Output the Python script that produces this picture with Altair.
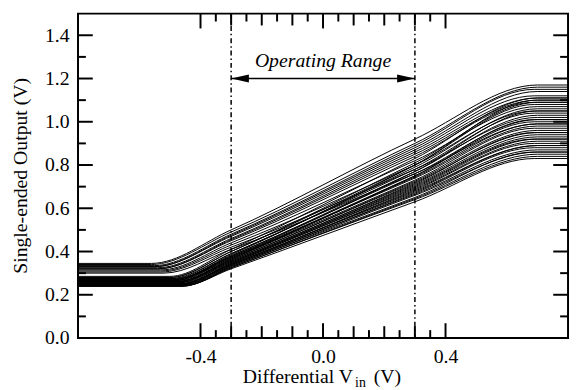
import altair as alt
import pandas as pd

W, H = 497, 329
FONT = "Liberation Serif"

# Per-curve values:
# left plateau, start of rise, value at -0.3 V, value at +0.3 V, end of rise, right plateau
plateau_low = [0.345, 0.34, 0.335, 0.33, 0.33, 0.325, 0.32, 0.32, 0.315, 0.31, 0.305, 0.30,
               0.285, 0.28, 0.28, 0.275, 0.275, 0.27, 0.27, 0.27, 0.265, 0.265, 0.26, 0.26,
               0.26, 0.26, 0.255, 0.255, 0.255, 0.25, 0.25, 0.25, 0.25, 0.245, 0.245, 0.245,
               0.245, 0.24, 0.24, 0.24, 0.24, 0.265, 0.27, 0.26]
knee_low = [-0.56, -0.56, -0.55, -0.55, -0.55, -0.54, -0.54, -0.54, -0.53, -0.53, -0.53, -0.52,
            -0.50, -0.50, -0.50, -0.50, -0.49, -0.49, -0.49, -0.49, -0.49, -0.48, -0.48, -0.48,
            -0.48, -0.48, -0.48, -0.48, -0.47, -0.47, -0.47, -0.47, -0.47, -0.47, -0.47, -0.46,
            -0.46, -0.46, -0.46, -0.46, -0.46, -0.49, -0.49, -0.48]
value_m03 = [0.50, 0.49, 0.48, 0.475, 0.47, 0.46, 0.455, 0.45, 0.44, 0.43, 0.42, 0.41,
             0.41, 0.40, 0.40, 0.39, 0.39, 0.38, 0.38, 0.375, 0.37, 0.37, 0.365, 0.36,
             0.36, 0.355, 0.355, 0.35, 0.35, 0.345, 0.345, 0.34, 0.34, 0.34, 0.335, 0.335,
             0.33, 0.33, 0.325, 0.325, 0.32, 0.375, 0.385, 0.365]
value_p03 = [0.92, 0.90, 0.89, 0.88, 0.87, 0.86, 0.85, 0.84, 0.82, 0.80, 0.78, 0.76,
             0.83, 0.81, 0.80, 0.79, 0.78, 0.77, 0.76, 0.75, 0.745, 0.74, 0.73, 0.725,
             0.72, 0.715, 0.71, 0.705, 0.70, 0.695, 0.69, 0.685, 0.68, 0.675, 0.67, 0.665,
             0.66, 0.65, 0.645, 0.64, 0.63, 0.77, 0.80, 0.75]
knee_high = [0.70, 0.70, 0.69, 0.70, 0.69, 0.70, 0.70, 0.69, 0.70, 0.69, 0.70, 0.70,
             0.70, 0.70, 0.69, 0.70, 0.69, 0.70, 0.70, 0.69, 0.70, 0.70, 0.69, 0.70,
             0.70, 0.69, 0.70, 0.70, 0.69, 0.70, 0.70, 0.69, 0.70, 0.70, 0.69, 0.70,
             0.70, 0.69, 0.70, 0.70, 0.69, 0.70, 0.70, 0.69]
plateau_high = [1.17, 1.16, 1.15, 1.14, 1.12, 1.11, 1.10, 1.09, 1.07, 1.05, 1.02, 0.99,
                1.11, 1.09, 1.08, 1.06, 1.04, 1.03, 1.01, 1.00, 0.99, 0.98, 0.97, 0.96,
                0.95, 0.95, 0.94, 0.93, 0.92, 0.92, 0.91, 0.90, 0.89, 0.89, 0.88, 0.87,
                0.86, 0.86, 0.85, 0.84, 0.83, 1.05, 1.10, 1.01]
x_start, x_end = -0.8, 0.8

range_limits = [-0.3, 0.3]
range_label = "Operating Range"
arrow_level = 1.20
label_level = 1.255

x_label_values = [-0.4, 0.0, 0.4]
y_label_values = [0.0, 0.2, 0.4, 0.6, 0.8, 1.0, 1.2, 1.4]
x_major = [-0.4, 0.0, 0.4]
x_medium = [-0.3, -0.2, -0.1, 0.1, 0.2, 0.3]
x_minor = [-0.35, -0.25, -0.15, -0.05, 0.05, 0.15, 0.25, 0.35]
y_major = [0.2, 0.4, 0.6, 0.8, 1.0, 1.2, 1.4]
y_minor = [0.1, 0.3, 0.5, 0.7, 0.9, 1.1, 1.3]

rows = []
for i in range(len(plateau_low)):
    pts = [(x_start, plateau_low[i]), (knee_low[i], plateau_low[i]), (-0.3, value_m03[i]),
           (0.3, value_p03[i]), (knee_high[i], plateau_high[i]), (x_end, plateau_high[i])]
    for x, y in pts:
        rows.append({"run": i, "vin": x, "vout": y})
curves = pd.DataFrame(rows)

xs = alt.Scale(domain=[-0.8, 0.8], nice=False, zero=False)
ys = alt.Scale(domain=[0, 1.5], nice=False, zero=False)

lab_expr = "datum.value < 0 ? '-' + format(-datum.value, '.1f') : format(datum.value, '.1f')"

lines = alt.Chart(curves).mark_line(
    interpolate="monotone", color="black", strokeWidth=1, clip=True
).encode(
    x=alt.X("vin:Q", scale=xs,
            axis=alt.Axis(values=x_label_values, ticks=False, domain=False, grid=False,
                          labelExpr=lab_expr, labelFont=FONT, labelFontSize=20,
                          labelColor="black", labelPadding=9, title=None)),
    y=alt.Y("vout:Q", scale=ys,
            axis=alt.Axis(values=y_label_values, ticks=False, domain=False, grid=False,
                          labelExpr=lab_expr, labelFont=FONT, labelFontSize=20,
                          labelColor="black", labelPadding=9, title=None)),
    detail="run:N",
)

def xticks(vals, length):
    d = pd.DataFrame({"v": vals})
    b = alt.Chart(d).mark_rule(color="black", strokeWidth=2).encode(
        x=alt.X("v:Q", scale=xs), y=alt.value(H), y2=alt.value(H - length))
    t = alt.Chart(d).mark_rule(color="black", strokeWidth=2).encode(
        x=alt.X("v:Q", scale=xs), y=alt.value(0), y2=alt.value(length))
    return [b, t]

def yticks(vals, length):
    d = pd.DataFrame({"v": vals})
    l = alt.Chart(d).mark_rule(color="black", strokeWidth=2).encode(
        y=alt.Y("v:Q", scale=ys), x=alt.value(0), x2=alt.value(length))
    r = alt.Chart(d).mark_rule(color="black", strokeWidth=2).encode(
        y=alt.Y("v:Q", scale=ys), x=alt.value(W), x2=alt.value(W - length))
    return [l, r]

ticks = (xticks(x_major, 15) + xticks(x_medium, 12) + xticks(x_minor, 8)
         + yticks(y_major, 15) + yticks(y_minor, 8))

vlines = alt.Chart(pd.DataFrame({"v": range_limits})).mark_rule(
    color="black", strokeWidth=1.5, strokeDash=[5, 3, 1.5, 3]
).encode(x=alt.X("v:Q", scale=xs), y=alt.value(0), y2=alt.value(H))

arrow_df = pd.DataFrame({"a": [range_limits[0]], "b": [range_limits[1]], "y": [arrow_level]})
arrow = alt.Chart(arrow_df).mark_rule(color="black", strokeWidth=1.5).encode(
    x=alt.X("a:Q", scale=xs), x2="b:Q", y=alt.Y("y:Q", scale=ys))

head_l = alt.Chart(pd.DataFrame({"x": [range_limits[0]], "y": [arrow_level]})).mark_point(
    shape="M -1 0 L 1 -0.45 L 1 0.45 Z", size=324, filled=True, color="black",
    opacity=1, strokeWidth=0, xOffset=9
).encode(x=alt.X("x:Q", scale=xs), y=alt.Y("y:Q", scale=ys))
head_r = alt.Chart(pd.DataFrame({"x": [range_limits[1]], "y": [arrow_level]})).mark_point(
    shape="M 1 0 L -1 -0.45 L -1 0.45 Z", size=324, filled=True, color="black",
    opacity=1, strokeWidth=0, xOffset=-9
).encode(x=alt.X("x:Q", scale=xs), y=alt.Y("y:Q", scale=ys))

label = alt.Chart(pd.DataFrame({"x": [0.0], "y": [label_level], "t": [range_label]})).mark_text(
    font=FONT, fontSize=20, fontStyle="italic", color="black", align="center",
    baseline="alphabetic"
).encode(x=alt.X("x:Q", scale=xs), y=alt.Y("y:Q", scale=ys), text="t:N")

x_title_main = alt.Chart(pd.DataFrame({"t": ["Differential V"]})).mark_text(
    font=FONT, fontSize=20, color="black", align="right", baseline="alphabetic"
).encode(x=alt.value(279), y=alt.value(375), text="t:N")
x_title_sub = alt.Chart(pd.DataFrame({"t": ["in"]})).mark_text(
    font=FONT, fontSize=14, color="black", align="left", baseline="alphabetic"
).encode(x=alt.value(281), y=alt.value(379), text="t:N")
x_title_end = alt.Chart(pd.DataFrame({"t": ["(V)"]})).mark_text(
    font=FONT, fontSize=20, color="black", align="left", baseline="alphabetic"
).encode(x=alt.value(300), y=alt.value(375), text="t:N")
y_title = alt.Chart(pd.DataFrame({"t": ["Single-ended Output (V)"]})).mark_text(
    font=FONT, fontSize=20, color="black", align="center", baseline="middle", angle=270
).encode(x=alt.value(-58), y=alt.value(H / 2), text="t:N")

chart = alt.layer(
    lines, vlines, arrow, head_l, head_r, label, *ticks,
    x_title_main, x_title_sub, x_title_end, y_title
).properties(
    width=W, height=H,
    autosize=alt.AutoSizeParams(type="none"),
    padding={"left": 71, "top": 3, "right": 2, "bottom": 50},
).configure(
    background="white"
).configure_view(
    stroke="black", strokeWidth=2
)

chart.save("out.html", embed_options={"renderer": "svg", "actions": False})
